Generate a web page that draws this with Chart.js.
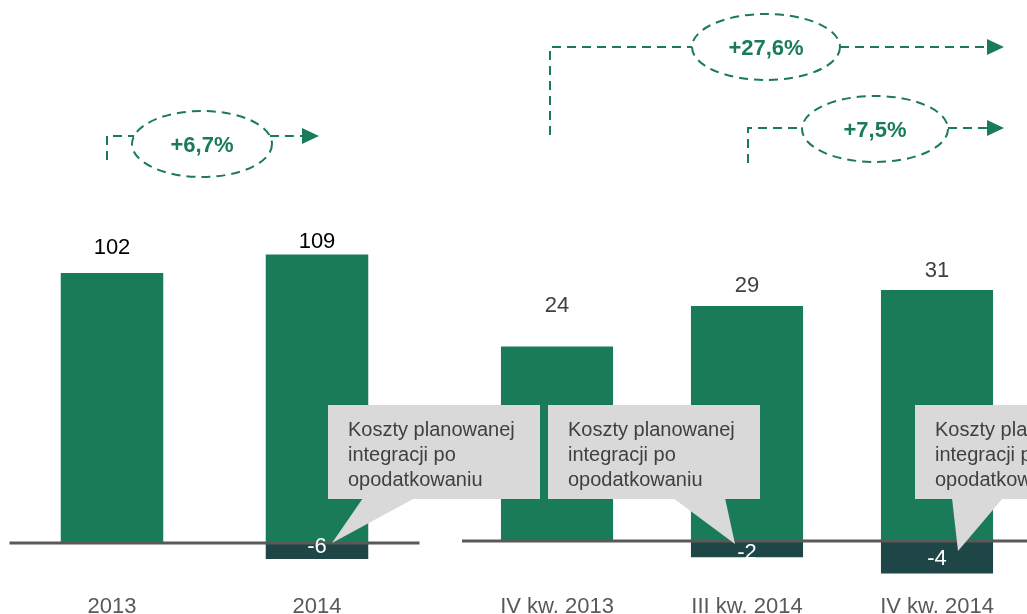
<!DOCTYPE html>
<html lang="pl">
<head>
<meta charset="utf-8">
<title>Zysk netto</title>
<script src="https://cdn.jsdelivr.net/npm/chart.js@4.4.1/dist/chart.umd.min.js"></script>
<style>
  html, body { margin: 0; padding: 0; background: #fff; overflow: hidden; }
  #wrap { position: relative; width: 1027px; height: 614px; }
  canvas { position: absolute; top: 0; }
  #left { left: 0; }
  #right { left: 440px; }
  #overlay { left: 0; pointer-events: none; }
</style>
</head>
<body>
<div id="wrap">
  <canvas id="left" width="440" height="614"></canvas>
  <canvas id="right" width="600" height="614"></canvas>
  <canvas id="overlay" width="1027" height="614"></canvas>
</div>
<script>
// data
const years = ['2013', '2014'];
const yearNet = [102, 109];
const yearCost = [null, -6];
const quarters = ['IV kw. 2013', 'III kw. 2014', 'IV kw. 2014'];
const quarterNet = [24, 29, 31];
const quarterCost = [null, -2, -4];
const growth = ['+6,7%', '+27,6%', '+7,5%'];
const calloutLines = ['Koszty planowanej', 'integracji po', 'opodatkowaniu'];

const GREEN = '#1a7b58';
const DARK = '#1f4647';
const FONT = '"Liberation Sans", Arial, sans-serif';

Chart.defaults.font.family = FONT;

const barLabels = {
  id: 'barLabels',
  afterDatasetsDraw(chart, args, opts) {
    const ctx = chart.ctx;
    const y0 = chart.scales.y.getPixelForValue(0);
    ctx.save();
    ctx.strokeStyle = '#595959';
    ctx.lineWidth = 3;
    ctx.beginPath();
    ctx.moveTo(chart.chartArea.left, y0);
    ctx.lineTo(chart.chartArea.right, y0);
    ctx.stroke();
    ctx.font = '22px ' + FONT;
    ctx.textAlign = 'center';
    ctx.textBaseline = 'middle';
    chart.getDatasetMeta(0).data.forEach((bar, i) => {
      ctx.fillStyle = opts.color;
      ctx.fillText(String(chart.data.datasets[0].data[i]), bar.x, bar.y - opts.gaps[i]);
    });
    chart.getDatasetMeta(1).data.forEach((bar, i) => {
      const v = chart.data.datasets[1].data[i];
      if (v == null) return;
      ctx.fillStyle = '#fff';
      ctx.fillText(String(v), bar.x, y0 + opts.negGaps[i]);
    });
    ctx.restore();
  }
};

function makeChart(id, labels, net, cost, o) {
  return new Chart(document.getElementById(id), {
    type: 'bar',
    data: {
      labels: labels,
      datasets: [
        { data: net, backgroundColor: GREEN, barPercentage: 1, categoryPercentage: o.barFrac },
        { data: cost, backgroundColor: DARK, barPercentage: 1, categoryPercentage: o.barFrac }
      ]
    },
    options: {
      responsive: false,
      animation: false,
      layout: { padding: o.padding },
      plugins: {
        legend: { display: false },
        tooltip: { enabled: false },
        barLabels: { color: o.labelColor, gaps: o.gaps, negGaps: o.negGaps }
      },
      scales: {
        x: {
          stacked: true,
          grid: { display: false, drawTicks: false },
          border: { display: false },
          ticks: { color: '#595959', font: { size: 22 }, padding: o.tickPad, maxRotation: 0 },
          afterFit: s => { s.height = o.axisH; }
        },
        y: { stacked: true, display: false, min: o.min, max: o.max }
      }
    },
    plugins: [barLabels]
  });
}

const leftChart = makeChart('left', years, yearNet, yearCost, {
  barFrac: 0.5, min: -12, max: 180,
  padding: { left: 9.5, right: 20.5, top: 66.5, bottom: 0 },
  axisH: 39.2, tickPad: 19, labelColor: '#000', gaps: [25, 13], negGaps: [0, 4]
});
const rightChart = makeChart('right', quarters, quarterNet, quarterCost, {
  barFrac: 0.59, min: -5, max: 50,
  padding: { left: 22, right: 8, top: 136, bottom: 0 },
  axisH: 32.5, tickPad: 12.5, labelColor: '#404040', gaps: [41, 20, 19], negGaps: [0, 12, 18]
});

// overlay: growth arrows and callouts
const ov = document.getElementById('overlay').getContext('2d');

function growthArrow(label, vx, vy, ly, cx, cy, rx, ry, tipX) {
  ov.save();
  ov.strokeStyle = GREEN;
  ov.lineWidth = 2;
  ov.setLineDash([9, 6]);
  const dy = ly - cy;
  const dx = rx * Math.sqrt(1 - (dy * dy) / (ry * ry));
  ov.beginPath();
  ov.moveTo(vx, vy);
  ov.lineTo(vx, ly);
  ov.lineTo(cx - dx, ly);
  ov.stroke();
  ov.beginPath();
  ov.ellipse(cx, cy, rx, ry, 0, 0, Math.PI * 2);
  ov.stroke();
  ov.beginPath();
  ov.moveTo(cx + dx, ly);
  ov.lineTo(tipX - 17, ly);
  ov.stroke();
  ov.setLineDash([]);
  ov.fillStyle = GREEN;
  ov.beginPath();
  ov.moveTo(tipX - 17, ly - 8);
  ov.lineTo(tipX, ly);
  ov.lineTo(tipX - 17, ly + 8);
  ov.closePath();
  ov.fill();
  ov.font = 'bold 22px ' + FONT;
  ov.textAlign = 'center';
  ov.textBaseline = 'middle';
  ov.fillText(label, cx, cy + 2);
  ov.restore();
}

growthArrow(growth[0], 107, 160, 136, 202, 144, 70, 33, 319);
growthArrow(growth[1], 550, 135, 47, 766, 47, 74, 33, 1004);
growthArrow(growth[2], 748, 163, 128, 875, 129, 73, 33, 1004);

function callout(bx, tail1, tail2, tip) {
  const by = 405, bw = 212, bh = 94;
  ov.save();
  ov.fillStyle = '#d9d9d9';
  ov.fillRect(bx, by, bw, bh);
  ov.beginPath();
  ov.moveTo(tail1, by + bh - 1);
  ov.lineTo(tip[0], tip[1]);
  ov.lineTo(tail2, by + bh - 1);
  ov.closePath();
  ov.fill();
  ov.fillStyle = '#404040';
  ov.font = '20px ' + FONT;
  ov.textAlign = 'left';
  ov.textBaseline = 'middle';
  calloutLines.forEach((t, i) => ov.fillText(t, bx + 20, by + 25 + i * 25));
  ov.restore();
}

function barTip(chart, i, dx, dy) {
  const bar = chart.getDatasetMeta(1).data[i];
  return [bar.x + 440 * (chart === rightChart) + dx, chart.scales.y.getPixelForValue(0) + dy];
}

callout(328, 363, 415, barTip(leftChart, 1, 15, 0));
callout(548, 673, 725, barTip(rightChart, 1, -12, 3));
callout(915, 952, 1003, barTip(rightChart, 2, 21, 10));
</script>
</body>
</html>
